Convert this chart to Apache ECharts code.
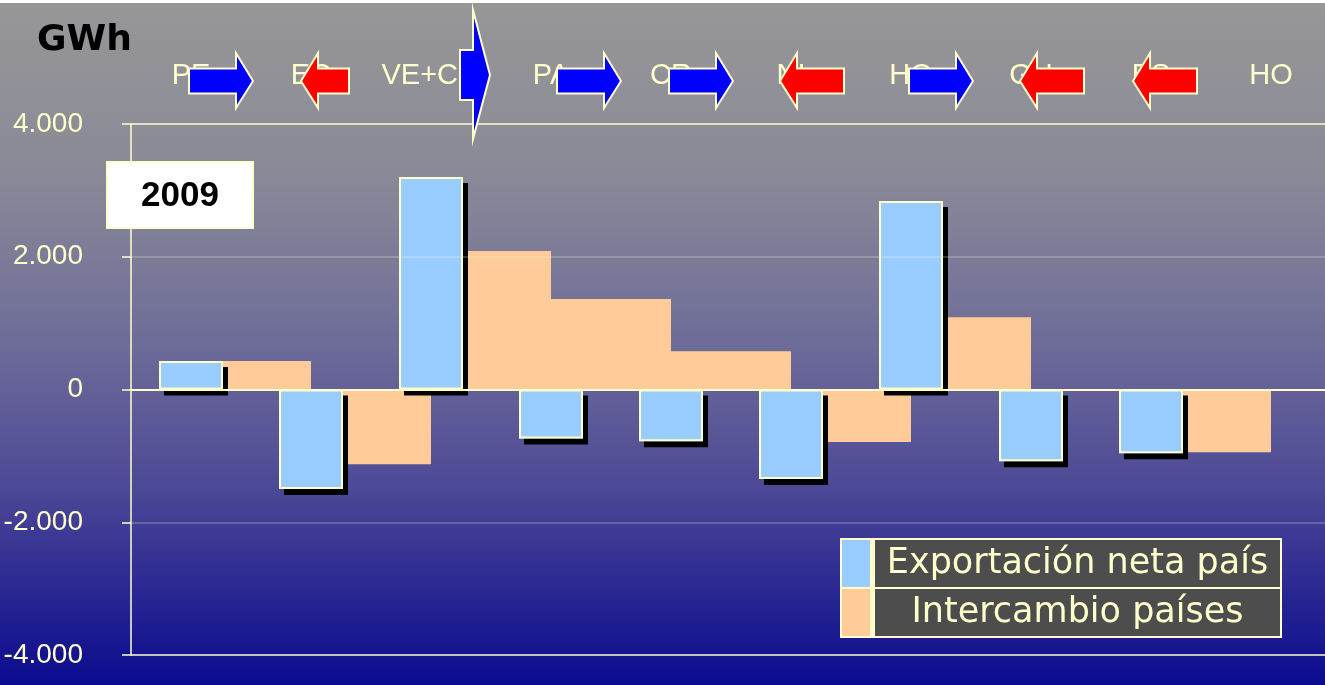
<!DOCTYPE html>
<html>
<head>
<meta charset="utf-8">
<script src="https://cdn.jsdelivr.net/npm/echarts@6/dist/echarts.min.js"></script>
<style>
html,body{margin:0;padding:0;background:#fff;}
#chart{width:1325px;height:685px;}
</style>
</head>
<body>
<div id="chart"></div>
<script>
// ---- data ----
const categories = ['PE', 'EC', 'VE+CO', 'PA', 'CR', 'NI', 'HO', 'GU', 'ES', 'HO'];
const exportNet = [430, -1500, 3200, -740, -780, -1350, 2840, -1080, -960, null];
const boundaryNames = ['start', 'PE-EC', 'EC-VE+CO', 'VE+CO-PA', 'PA-CR', 'CR-NI', 'NI-HO', 'HO-GU', 'GU-ES', 'ES-HO', 'end'];
const exchange = [null, 430, -1125, 2085, 1362, 578, -792, 1090, -15, -945, null];
const seriesNames = ['Exportación neta país', 'Intercambio países'];
const yMin = -4000, yMax = 4000, yStep = 2000;
const unitLabel = 'GWh';
const yearLabel = '2009';

// ---- decoration layout (arrows between countries) ----
const arrowLayout = [
  {dx: -2, len: 64}, {dx: -10, len: 48}, {dx: 29, tall: true}, {dx: 6, len: 64},
  {dx: -2, len: 64}, {dx: -11, len: 64}, {dx: -2, len: 64}, {dx: -11, len: 64}, {dx: -18, len: 64}
];

const CREAM = '#ffffcc';
const AXISFONT = "'Liberation Sans Narrow', 'Liberation Sans', Arial, sans-serif";

function fmt(v) {
  const s = v < 0 ? '-' : '';
  const a = Math.abs(v);
  const str = String(a).replace(/\B(?=(\d{3})+(?!\d))/g, '.');
  return s + str;
}

const chart = echarts.init(document.getElementById('chart'), null, {renderer: 'canvas'});

const option = {
  animation: false,
  backgroundColor: {
    type: 'linear', x: 0, y: 0, x2: 0, y2: 1,
    colorStops: [
      {offset: 0, color: '#979797'},
      {offset: 0.25, color: '#8a8a98'},
      {offset: 0.5, color: '#6e6c98'},
      {offset: 0.7, color: '#4e4b96'},
      {offset: 0.85, color: '#2d2a93'},
      {offset: 1, color: '#0a0a8e'}
    ]
  },
  title: {
    text: unitLabel, left: 37, top: 23, padding: 0,
    textStyle: {fontFamily: 'DejaVu Sans', fontWeight: 'bold', fontSize: 36, color: '#000'}
  },
  grid: {left: 131, right: -6, top: 124, bottom: 30, containLabel: false, outerBoundsMode: 'none'},
  legend: {
    data: seriesNames,
    orient: 'vertical', left: 840, top: 538,
    padding: 2, itemGap: 2, itemWidth: 28, itemHeight: 47,
    backgroundColor: CREAM,
    icon: 'rect', selectedMode: false,
    itemStyle: {borderWidth: 0, shadowColor: 'rgba(0,0,0,0)', shadowBlur: 0, shadowOffsetX: 0, shadowOffsetY: 0},
    formatter: '{t|{name}}',
    textStyle: {
      rich: {
        t: {
          width: 405, height: 47, lineHeight: 47, align: 'center', verticalAlign: 'middle',
          backgroundColor: '#4d4d4d', color: CREAM, fontFamily: 'DejaVu Sans', fontSize: 35
        }
      }
    }
  },
  xAxis: [
    {
      type: 'category', data: categories, position: 'bottom', z: 3,
      axisLine: {onZero: true, lineStyle: {color: CREAM, width: 2}},
      axisTick: {show: false}, axisLabel: {show: false}, splitLine: {show: false}
    },
    {
      type: 'category', data: categories, position: 'top',
      axisLine: {show: false}, axisTick: {show: false}, splitLine: {show: false},
      axisLabel: {color: CREAM, fontFamily: AXISFONT, fontSize: 29, margin: 34, interval: 0}
    },
    {
      type: 'category', data: boundaryNames, boundaryGap: false, show: false
    }
  ],
  yAxis: {
    type: 'value', min: yMin, max: yMax, interval: yStep, z: 3,
    axisLine: {show: true, lineStyle: {color: CREAM, width: 1.5}},
    axisTick: {show: true, length: 9, lineStyle: {color: CREAM, width: 1.5}},
    axisLabel: {color: CREAM, fontFamily: AXISFONT, fontSize: 28, margin: 48, formatter: fmt},
    splitLine: {show: true, lineStyle: {color: [CREAM, 'rgba(255,255,225,0.28)', CREAM, 'rgba(255,255,225,0.28)', CREAM], width: 1.5}}
  },
  series: [
    {
      name: seriesNames[1], type: 'bar', xAxisIndex: 2, data: exchange,
      barWidth: '100%', z: 1,
      itemStyle: {color: '#ffcc99'}
    },
    {
      name: seriesNames[0], type: 'bar', xAxisIndex: 0, data: exportNet,
      barWidth: 64, barGap: '-100%', z: 2,
      itemStyle: {
        color: '#99ccff', borderWidth: 0,
        shadowColor: '#000', shadowBlur: 0, shadowOffsetX: 5, shadowOffsetY: 6
      }
    },
    {
      name: 'outline', type: 'bar', xAxisIndex: 0, data: exportNet,
      barWidth: 64, barGap: '-100%', z: 2,
      itemStyle: {color: 'rgba(0,0,0,0)', borderColor: CREAM, borderWidth: 2}
    }
  ]
};
chart.setOption(option);

// ---- decorations: year box, top strip, arrows ----
const graphics = [
  {type: 'rect', shape: {x: 0, y: 0, width: 1325, height: 3}, style: {fill: '#ffffff'}, z: 100},
  {type: 'rect', shape: {x: 107, y: 162, width: 146, height: 66}, style: {fill: '#ffffff', stroke: CREAM, lineWidth: 2}, z: 100},
  {type: 'text', x: 180, y: 196, style: {text: yearLabel, fill: '#000', font: "bold 35px 'Liberation Sans', sans-serif", textAlign: 'center', textVerticalAlign: 'middle'}, z: 101}
];

const cy = 81;
arrowLayout.forEach(function (a, k) {
  const v = exchange[k + 1];
  const cx = chart.convertToPixel({xAxisIndex: 0}, k);
  const x0 = cx + a.dx;
  let pts;
  const right = v >= 0;
  if (a.tall) {
    pts = [[x0, 50], [x0 + 13, 50], [x0 + 13, 10], [x0 + 30, 75], [x0 + 13, 139], [x0 + 13, 100], [x0, 100]];
  } else if (right) {
    const L = a.len, h = 17;
    pts = [[x0, cy - 12.5], [x0 + L - h, cy - 12.5], [x0 + L - h, cy - 28], [x0 + L, cy], [x0 + L - h, cy + 27], [x0 + L - h, cy + 12.5], [x0, cy + 12.5]];
  } else {
    const L = a.len, h = 17;
    pts = [[x0, cy], [x0 + h, cy - 28], [x0 + h, cy - 12.5], [x0 + L, cy - 12.5], [x0 + L, cy + 12.5], [x0 + h, cy + 12.5], [x0 + h, cy + 27]];
  }
  graphics.push({
    type: 'polygon', shape: {points: pts},
    style: {fill: right ? '#0000ff' : '#ff0000', stroke: CREAM, lineWidth: 2},
    z: 100
  });
});

chart.setOption({graphic: graphics});
</script>
</body>
</html>
